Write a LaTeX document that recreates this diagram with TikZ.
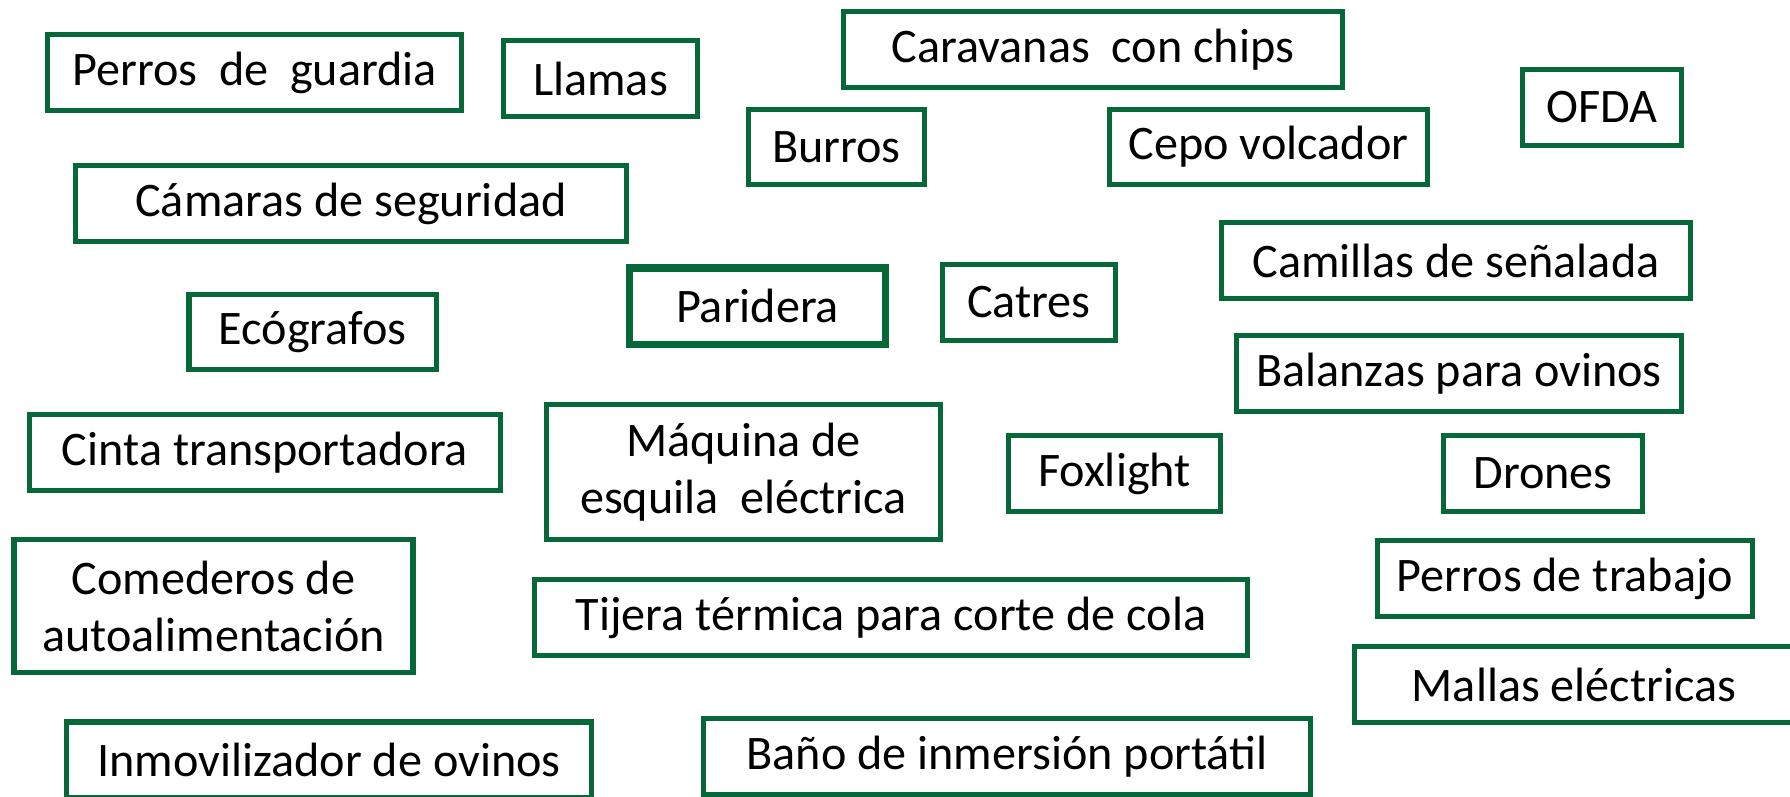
\documentclass[tikz,border=0pt]{standalone}
\usepackage{fontspec}
\setmainfont{Carlito}
\definecolor{boxgreen}{RGB}{6,104,56}

\tikzstyle{tool}=[rectangle, draw=boxgreen, line width=1.5pt, inner sep=0pt, align=center, font=\fontsize{13.7}{16.2}\selectfont]
\tikzstyle{toolthick}=[tool, line width=2pt]

\begin{document}
\begin{tikzpicture}[x=0.01cm,y=-0.01cm]
\clip (0,0) rectangle (1790,796);

\node[tool, minimum width=4.14cm, minimum height=0.76cm] (guardia) at (254.5,72.5) {Perros\ \ de\ \ guardia};
\node[tool, minimum width=1.94cm, minimum height=0.76cm] (llamas) at (600.5,78.5) {Llamas};
\node[tool, minimum width=4.99cm, minimum height=0.76cm] (caravanas) at (1093,49.5) {Caravanas\ \ con chips};
\node[tool, minimum width=1.76cm, minimum height=0.75cm] (burros) at (836.5,147) {Burros};
\node[tool, minimum width=3.18cm, minimum height=0.75cm] (cepo) at (1268.5,147) {Cepo volcador};
\node[tool, minimum width=1.59cm, minimum height=0.76cm] (ofda) at (1602,107.5) {OFDA};

\node[tool, minimum width=5.51cm, minimum height=0.76cm] (camaras) at (351,203.5) {Cámaras de seguridad};
\node[tool, minimum width=4.69cm, minimum height=0.76cm] (camillas) at (1456,260.5) {Camillas de señalada};
\node[tool, minimum width=2.47cm, minimum height=0.75cm] (ecografos) at (312.6,332) {Ecógrafos};
\node[toolthick, minimum width=2.55cm, minimum height=0.76cm] (paridera) at (757.5,306) {Paridera};
\node[tool, minimum width=1.73cm, minimum height=0.76cm] (catres) at (1029,302.5) {Catres};
\node[tool, minimum width=4.45cm, minimum height=0.76cm] (balanzas) at (1459,373.5) {Balanzas para ovinos};

\node[tool, minimum width=4.71cm, minimum height=0.76cm] (cinta) at (265,452.5) {Cinta transportadora};
\node[tool, minimum width=3.94cm, minimum height=1.35cm] (maquina) at (743.5,472) {Máquina de\\esquila\ \ eléctrica};
\node[tool, minimum width=2.12cm, minimum height=0.76cm] (foxlight) at (1114.5,473.5) {Foxlight};
\node[tool, minimum width=1.99cm, minimum height=0.76cm] (drones) at (1543,473.5) {Drones};

\node[tool, minimum width=3.99cm, minimum height=1.33cm] (comederos) at (213.5,606) {Comederos de\\autoalimentación};
\node[tool, minimum width=7.13cm, minimum height=0.76cm] (tijera) at (891,617.5) {Tijera térmica para corte de cola};
\node[tool, minimum width=3.75cm, minimum height=0.76cm] (trabajo) at (1565,578.5) {Perros de trabajo};
\node[tool, minimum width=4.39cm, minimum height=0.76cm] (mallas) at (1574,684.5) {Mallas eléctricas};

\node[tool, minimum width=5.25cm, minimum height=0.76cm] (inmovilizador) at (329,760) {Inmovilizador de ovinos};
\node[tool, minimum width=6.06cm, minimum height=0.76cm] (bano) at (1007,756.5) {Baño de inmersión portátil};
\end{tikzpicture}
\end{document}
